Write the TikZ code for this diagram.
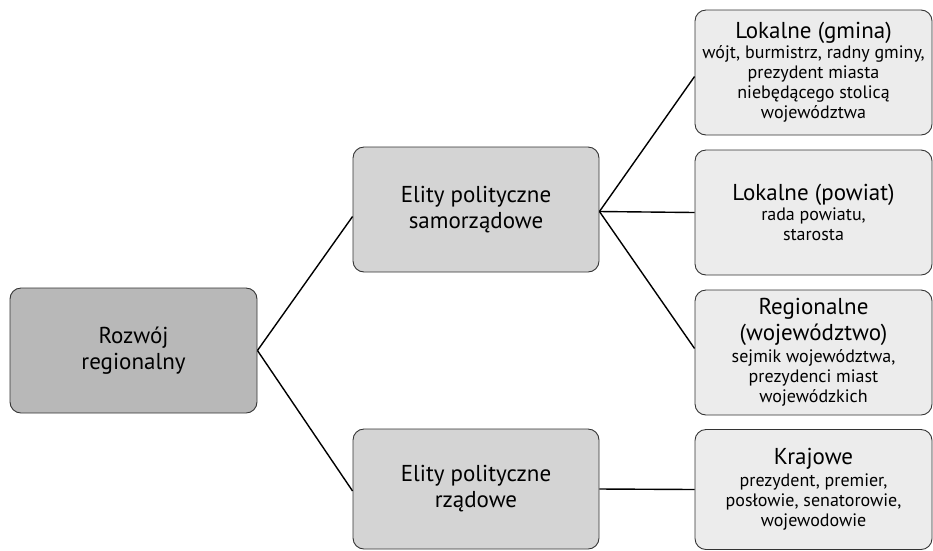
\documentclass[tikz,border=0pt]{standalone}
\usepackage{fontspec}
\setmainfont{PT Sans}
\definecolor{darkfill}{HTML}{B8B8B8}
\definecolor{midfill}{HTML}{D4D4D4}
\definecolor{lightfill}{HTML}{ECECEC}
\definecolor{edge}{HTML}{333333}
\newcommand{\hd}{\fontsize{23}{26}\selectfont}
\newcommand{\nolsk}{\lineskiplimit=-40pt\relax}
\begin{document}
\begin{tikzpicture}[x=1pt,y=-1pt,
  box/.style={draw=edge, line width=0.9pt, rounded corners=11pt, align=center, inner sep=0pt},
  bigbox/.style={box, font=\fontsize{23}{26}\selectfont\nolsk},
  leafbox/.style={box, fill=lightfill, minimum width=237pt, font=\fontsize{18}{20}\selectfont\nolsk},
  link/.style={draw=black, line width=1.4pt}]
\useasboundingbox (0,0) rectangle (933,550);
\node[bigbox, fill=darkfill, minimum width=247pt, minimum height=125pt] (root) at (133.5,350.5) {Rozwój\\regionalny};
\node[bigbox, fill=midfill, minimum width=246pt, minimum height=125pt] (sam) at (476,209.5) {Elity polityczne\\samorządowe};
\node[bigbox, fill=midfill, minimum width=246pt, minimum height=120pt] (rz) at (476,489) {Elity polityczne\\rządowe};
\node[leafbox, minimum height=125pt] (gm) at (813.5,72.5) {{\hd Lokalne (gmina)}\\wójt, burmistrz, radny gminy,\\prezydent miasta\\niebędącego stolicą\\województwa};
\node[leafbox, minimum height=125pt] (pw) at (813.5,212.5) {{\hd Lokalne (powiat)}\\rada powiatu,\\starosta};
\node[leafbox, minimum height=125pt] (wj) at (813.5,352.5) {{\hd Regionalne}\\[6pt]{\hd (województwo)}\\[2pt]sejmik województwa,\\prezydenci miast\\wojewódzkich};
\node[leafbox, minimum height=120pt] (kr) at (813.5,489.5) {{\hd Krajowe}\\[2pt]prezydent, premier,\\posłowie, senatorowie,\\wojewodowie};
\draw[link] (root.east) -- ([yshift=-7pt]sam.west);
\draw[link] (root.east) -- ([yshift=-2pt]rz.west);
\draw[link] ([yshift=-2pt]sam.east) -- ([yshift=-4pt]gm.west);
\draw[link] ([yshift=-2pt]sam.east) -- (pw.west);
\draw[link] ([yshift=-2pt]sam.east) -- ([yshift=4pt]wj.west);
\draw[link] (rz.east) -- (kr.west);
\end{tikzpicture}
\end{document}
